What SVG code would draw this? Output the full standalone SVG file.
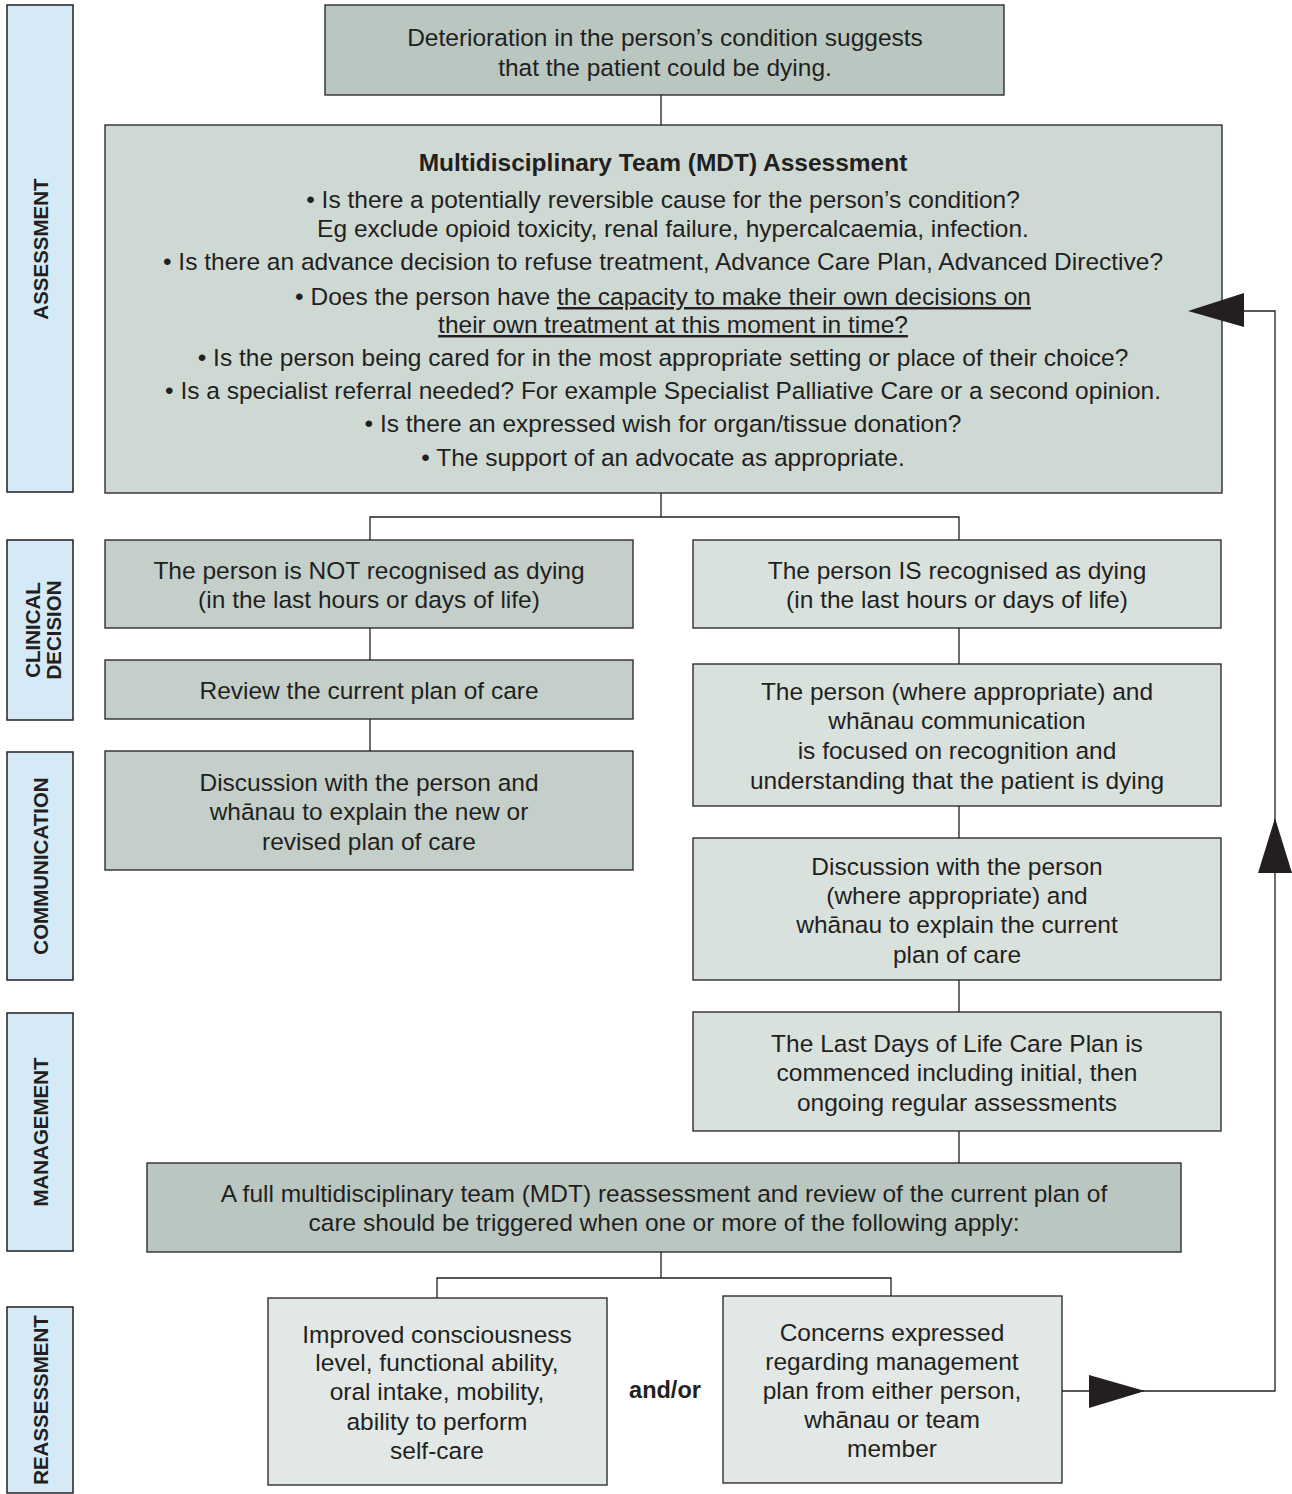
<svg xmlns="http://www.w3.org/2000/svg" width="1292" height="1494" viewBox="0 0 1292 1494">
<style>
text{font-family:"Liberation Sans",Arial,sans-serif;fill:#231f20;text-anchor:middle}
.t{font-size:24.5px}
.b{font-weight:bold}
.ao{font-size:23.5px;font-weight:bold}
.side rect{fill:#d5eaf6;stroke:#231f20;stroke-width:1.5}
.side text{font-size:20.5px;font-weight:bold}
.n rect{stroke:#231f20;stroke-width:1.3}
.dk{fill:#b9c7c0}
.md{fill:#cfd9d4}
.lf{fill:#c4cfca}
.rt{fill:#d9e1dd}
.lt{fill:#e2e8e5}
.c path{fill:none;stroke:#231f20;stroke-width:1.3}
.c polygon{fill:#231f20}
.u{text-decoration:underline}
</style>
<g id="lanes" class="side">
<g id="lane-assessment"><rect x="7" y="5" width="66" height="487"/><text transform="translate(48,249) rotate(-90)">ASSESSMENT</text></g>
<g id="lane-clinical"><rect x="7" y="540" width="66" height="180"/><text transform="translate(40,630) rotate(-90)">CLINICAL</text><text transform="translate(61,630) rotate(-90)">DECISION</text></g>
<g id="lane-communication"><rect x="7" y="752" width="66" height="228"/><text transform="translate(48,866) rotate(-90)">COMMUNICATION</text></g>
<g id="lane-management"><rect x="7" y="1013" width="66" height="238"/><text transform="translate(48,1132) rotate(-90)">MANAGEMENT</text></g>
<g id="lane-reassessment"><rect x="7" y="1307" width="66" height="186"/><text transform="translate(48,1400) rotate(-90)">REASSESSMENT</text></g>
</g>
<g id="n-start" class="n"><rect class="dk" x="325" y="5" width="679" height="90"/>
<text class="t" x="665" y="46">Deterioration in the person’s condition suggests</text>
<text class="t" x="665" y="76">that the patient could be dying.</text></g>
<g id="n-mdt" class="n"><rect class="md" x="105" y="125" width="1117" height="368"/>
<text class="t b" x="663" y="171">Multidisciplinary Team (MDT) Assessment</text>
<text class="t" x="663" y="208">• Is there a potentially reversible cause for the person’s condition?</text>
<text class="t" x="673" y="237">Eg exclude opioid toxicity, renal failure, hypercalcaemia, infection.</text>
<text class="t" x="663" y="270">• Is there an advance decision to refuse treatment, Advance Care Plan, Advanced Directive?</text>
<text class="t" x="663" y="305">• Does the person have <tspan class="u">the capacity to make their own decisions on</tspan></text>
<text class="t u" x="673" y="333">their own treatment at this moment in time?</text>
<text class="t" x="663" y="366">• Is the person being cared for in the most appropriate setting or place of their choice?</text>
<text class="t" x="663" y="399">• Is a specialist referral needed? For example Specialist Palliative Care or a second opinion.</text>
<text class="t" x="663" y="432">• Is there an expressed wish for organ/tissue donation?</text>
<text class="t" x="663" y="466">• The support of an advocate as appropriate.</text></g>
<g id="n-not" class="n"><rect class="lf" x="105" y="540" width="528" height="88"/>
<text class="t" x="369" y="579">The person is NOT recognised as dying</text>
<text class="t" x="369" y="608">(in the last hours or days of life)</text></g>
<g id="n-is" class="n"><rect class="rt" x="693" y="540" width="528" height="88"/>
<text class="t" x="957" y="579">The person IS recognised as dying</text>
<text class="t" x="957" y="608">(in the last hours or days of life)</text></g>
<g id="n-review" class="n"><rect class="lf" x="105" y="660" width="528" height="59"/>
<text class="t" x="369" y="699">Review the current plan of care</text></g>
<g id="n-discuss-left" class="n"><rect class="lf" x="105" y="751" width="528" height="119"/>
<text class="t" x="369" y="791">Discussion with the person and</text>
<text class="t" x="369" y="820">whānau to explain the new or</text>
<text class="t" x="369" y="850">revised plan of care</text></g>
<g id="n-comm-right" class="n"><rect class="rt" x="693" y="664" width="528" height="142"/>
<text class="t" x="957" y="700">The person (where appropriate) and</text>
<text class="t" x="957" y="729">whānau communication</text>
<text class="t" x="957" y="759">is focused on recognition and</text>
<text class="t" x="957" y="789">understanding that the patient is dying</text></g>
<g id="n-discuss-right" class="n"><rect class="rt" x="693" y="838" width="528" height="142"/>
<text class="t" x="957" y="875">Discussion with the person</text>
<text class="t" x="957" y="904">(where appropriate) and</text>
<text class="t" x="957" y="933">whānau to explain the current</text>
<text class="t" x="957" y="963">plan of care</text></g>
<g id="n-ldlcp" class="n"><rect class="rt" x="693" y="1012" width="528" height="119"/>
<text class="t" x="957" y="1052">The Last Days of Life Care Plan is</text>
<text class="t" x="957" y="1081">commenced including initial, then</text>
<text class="t" x="957" y="1111">ongoing regular assessments</text></g>
<g id="n-reassess" class="n"><rect class="dk" x="147" y="1163" width="1034" height="89"/>
<text class="t" x="664" y="1202">A full multidisciplinary team (MDT) reassessment and review of the current plan of</text>
<text class="t" x="664" y="1231">care should be triggered when one or more of the following apply:</text></g>
<g id="n-improved" class="n"><rect class="lt" x="268" y="1298" width="339" height="187"/>
<text class="t" x="437" y="1343">Improved consciousness</text>
<text class="t" x="437" y="1371">level, functional ability,</text>
<text class="t" x="437" y="1400">oral intake, mobility,</text>
<text class="t" x="437" y="1430">ability to perform</text>
<text class="t" x="437" y="1459">self-care</text></g>
<g id="n-andor"><text class="ao" x="665" y="1398">and/or</text></g>
<g id="n-concerns" class="n"><rect class="lt" x="723" y="1296" width="339" height="187"/>
<text class="t" x="892" y="1341">Concerns expressed</text>
<text class="t" x="892" y="1370">regarding management</text>
<text class="t" x="892" y="1399">plan from either person,</text>
<text class="t" x="892" y="1428">whānau or team</text>
<text class="t" x="892" y="1457">member</text></g>
<g id="connectors" class="c">
<path d="M661 95V125"/>
<path d="M661 493V517M370 540V517H959V540"/>
<path d="M370 628V660M370 719V751"/>
<path d="M959 628V664M959 806V838M959 980V1012M959 1131V1163"/>
<path d="M661 1252V1278M437 1298V1278H891V1296"/>
<path d="M1062 1391H1275V311H1244"/>
<polygon points="1089,1375 1145,1391 1089,1408"/>
<polygon points="1275,818 1292,873 1258,873"/>
<polygon points="1188,311 1244,293 1244,327"/>
</g>
</svg>
